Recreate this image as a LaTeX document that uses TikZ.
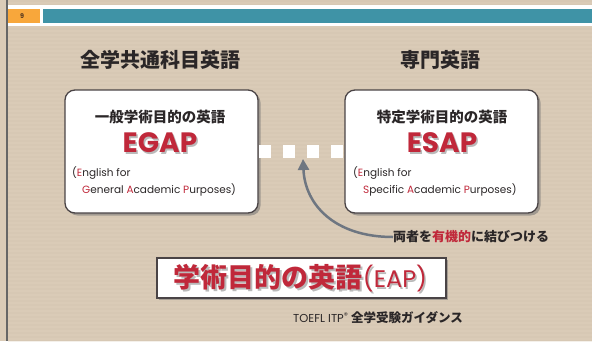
\documentclass[tikz,border=0pt]{standalone}
\usepackage{fontspec}
\setmainfont{Poppins}
\newfontfamily\jp{Noto Sans CJK JP}
\usetikzlibrary{shadows,arrows.meta}
\definecolor{bg}{HTML}{DACBB7}
\definecolor{bgdark}{HTML}{D2C2AC}
\definecolor{tealband}{HTML}{3F93A6}
\definecolor{orng}{HTML}{F8A73B}
\definecolor{myred}{HTML}{C0283A}
\definecolor{agray}{HTML}{6E7681}
\definecolor{ink}{HTML}{2A2627}
\definecolor{edge}{HTML}{4A4446}
\newcommand{\R}[1]{\textcolor{myred}{#1}}
\tikzset{
  heading/.style={text=ink, font=\jp\bfseries\fontsize{20}{24}\selectfont, inner sep=0pt},
  card/.style={draw=edge, line width=1.3pt, fill=white, rounded corners=10pt,
     minimum width=193pt, minimum height=123pt,
     drop shadow={shadow xshift=2.5pt, shadow yshift=-2.5pt, fill=black!55, opacity=.55}},
  sub/.style={text=ink, font=\jp\bfseries\fontsize{14.5}{17}\selectfont, inner sep=0pt},
  big/.style={text=myred, font=\bfseries\fontsize{28}{32}\selectfont, inner sep=0pt},
  bigshadow/.style={text=black!45, opacity=.6, font=\bfseries\fontsize{28}{32}\selectfont, inner sep=0pt},
  eng/.style={text=ink, font=\fontsize{10.5}{12}\selectfont, inner sep=0pt, anchor=west},
  dotsq/.style={fill=white, minimum size=12.5pt, inner sep=0pt},
  eapbox/.style={draw=edge, line width=1.3pt, fill=white, minimum width=289pt, minimum height=40pt,
     drop shadow={shadow xshift=2pt, shadow yshift=-2pt, fill=black!55, opacity=.5}},
  eaptext/.style={text=myred, inner sep=0pt},
}
\begin{document}
\begin{tikzpicture}[x=1pt,y=-1pt]
\useasboundingbox (0,0) rectangle (592,341);
\fill[bg] (0,0) rectangle (592,341);
\foreach \yy in {0,4,...,340} \fill[bgdark, opacity=.25] (8,\yy) rectangle (592,\yy+2);
\draw[black!60, line width=1.6pt] (7,0) -- (7,341);
\fill[white] (8,5.3) rectangle (592,26);
\fill[orng] (8,9) rectangle (40,22.7);
\fill[tealband] (42.7,9) rectangle (592,22.7);
\node[text=ink!80!orange, font=\bfseries\fontsize{6.5}{7}\selectfont, inner sep=0pt] (num) at (22,16) {9};

\node[heading] (t1) at (160,60) {全学共通科目英語};
\node[heading] (t2) at (440,60) {専門英語};

\node[card] (left) at (161.5,151.5) {};
\node[card] (right) at (441.5,151.5) {};

\node[sub] (g1) at (160,117) {一般学術目的の英語};
\node[bigshadow] (g2s) at (161.5,144.5) {EGAP};
\node[big] (g2) at (160,143) {EGAP};
\node[eng] (g3) at (72,173) {(\R{E}nglish for};
\node[eng] (g4) at (82,190) {\R{G}eneral \R{A}cademic \R{P}urposes)};

\node[sub] (s1) at (442,117) {特定学術目的の英語};
\node[bigshadow] (s2s) at (443.5,144.5) {ESAP};
\node[big] (s2) at (442,143) {ESAP};
\node[eng] (s3) at (353,173) {(\R{E}nglish for};
\node[eng] (s4) at (363,190) {\R{S}pecific \R{A}cademic \R{P}urposes)};

\node[dotsq] (d1) at (265,151.5) {};
\node[dotsq] (d2) at (289,151.5) {};
\node[dotsq] (d3) at (313,151.5) {};
\node[dotsq] (d4) at (337,151.5) {};

\node[anchor=west, inner sep=0pt, text=ink, font=\jp\bfseries\fontsize{13}{15}\selectfont] (link) at (393,237) {両者を\R{有機的}に結びつける};
\coordinate (tip) at (303,159);
\draw[agray, line width=2.5pt, -{Triangle[length=11pt,width=11pt]}] (link.west) .. controls (335,237) and (305,205) .. (tip);

\node[eapbox] (eap) at (301.5,278) {};
\node[eaptext, text=black!45, opacity=.6] (eaps) at (302,280) {{\jp\bfseries\fontsize{27}{30}\selectfont 学術目的の英語}{\fontsize{24}{28}\selectfont (EAP)}};
\node[eaptext] (eapt) at (300.5,278.5) {{\jp\bfseries\fontsize{27}{30}\selectfont 学術目的の英語}{\fontsize{24}{28}\selectfont (EAP)}};

\node[anchor=west, inner sep=0pt, text=ink] (foot) at (293,318) {{\fontsize{11.5}{13}\selectfont TOEFL ITP\textsuperscript{®}} {\jp\bfseries\fontsize{12.5}{14}\selectfont 全学受験ガイダンス}};
\end{tikzpicture}
\end{document}
